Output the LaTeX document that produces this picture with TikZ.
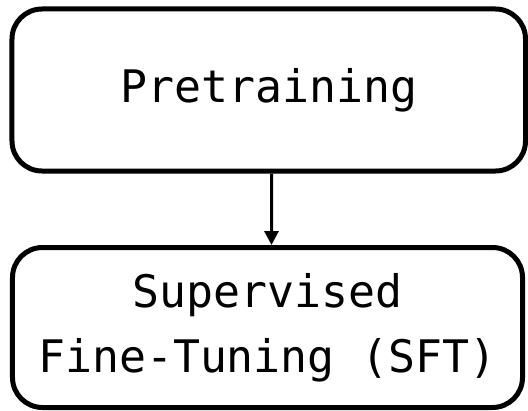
\documentclass[tikz,border=0pt]{standalone}
\usepackage{fontspec}
\setmonofont{DejaVu Sans Mono}
\usetikzlibrary{arrows.meta}
\begin{document}
\begin{tikzpicture}[x=1bp,y=1bp,
  stage/.style={draw,line width=5bp,rounded corners=30bp,align=center,
    font=\ttfamily\fontsize{45}{65}\selectfont}]
 \useasboundingbox (0,0) rectangle (528,410);
 \node[stage,minimum width=513.5bp,minimum height=162bp] (pre) at (268.75,320) {Pretraining};
 \node[stage,minimum width=510bp,minimum height=160bp] (sft) at (267.5,82.5) {Supervised\\Fine-Tuning (SFT)};
 \draw[line width=3bp,-{Triangle[length=14bp,width=14bp]}]
   ([xshift=2.75bp]pre.south) -- ([xshift=4bp]sft.north);
\end{tikzpicture}
\end{document}
